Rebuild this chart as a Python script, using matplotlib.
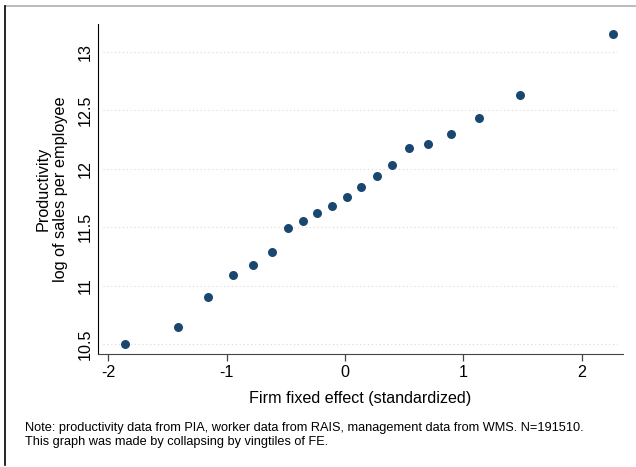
import numpy as np
import matplotlib.pyplot as plt
from matplotlib.lines import Line2D

plt.rcParams['font.family'] = ['Liberation Sans', 'DejaVu Sans']

# binned scatter: firm FE vingtiles vs log sales per employee
fe = [-1.86, -1.41, -1.155, -0.947, -0.775, -0.62, -0.48, -0.352, -0.234, -0.107,
      0.014, 0.138, 0.268, 0.40, 0.538, 0.70, 0.896, 1.133, 1.479, 2.268]
prod = [10.50, 10.646, 10.905, 11.09, 11.176, 11.285, 11.497, 11.556, 11.619, 11.68,
        11.759, 11.847, 11.941, 12.035, 12.175, 12.215, 12.30, 12.435, 12.634, 13.157]
xticks = [-2, -1, 0, 1, 2]
yticks = [10.5, 11, 11.5, 12, 12.5, 13]
ytick_labels = ['10.5', '11', '11.5', '12', '12.5', '13']

col = '#1a476f'

fig = plt.figure(figsize=(6.36, 4.67), dpi=100)
ax = fig.add_axes([0.1541, 0.242, 0.8255, 0.7066])

ax.scatter(fe, prod, s=42, color=col, zorder=3, linewidths=0)

ax.set_xlim(-2.088, 2.35)
ax.set_ylim(10.414, 13.24)
ax.set_xticks(xticks)
ax.set_xticklabels(['-2', '-1', '0', '1', '2'], fontsize=11.6)
ax.set_yticks(yticks)
ax.set_yticklabels(ytick_labels, fontsize=11.6, rotation=90, va='center')

for y in yticks:
    ax.plot([-2.05, 2.3], [y, y], color='#d8d8d8', lw=0.8, ls=(0, (1, 2.5)), zorder=1)

ax.spines['top'].set_visible(False)
ax.spines['right'].set_visible(False)
ax.spines['left'].set_color('black')
ax.spines['bottom'].set_color('#444444')
ax.tick_params(axis='x', direction='out', length=5, width=0.9, color='#444444', pad=3)
ax.tick_params(axis='y', length=0, pad=4)

ax.set_xlabel('Firm fixed effect (standardized)', fontsize=11.6, labelpad=8)
ax.set_ylabel('Productivity\nlog of sales per employee', fontsize=11.7, labelpad=7, linespacing=1.15)

fig.text(25 / 636, 1 - 428 / 467, 'Note: productivity data from PIA, worker data from RAIS, management data from WMS. N=191510.',
         fontsize=9.2, va='center', ha='left')
fig.text(25 / 636, 1 - 442 / 467, 'This graph was made by collapsing by vingtiles of FE.',
         fontsize=9.2, va='center', ha='left')

# outer frame edges as in the original export
fig.add_artist(Line2D([5 / 636, 1], [1 - 6 / 467, 1 - 6 / 467], color='#b0b0b0', lw=1.2, transform=fig.transFigure))
fig.add_artist(Line2D([5 / 636, 5 / 636], [1 - 6 / 467, 2 / 467], color='black', lw=1.2, transform=fig.transFigure))

fig.savefig('out.png', dpi=100)
